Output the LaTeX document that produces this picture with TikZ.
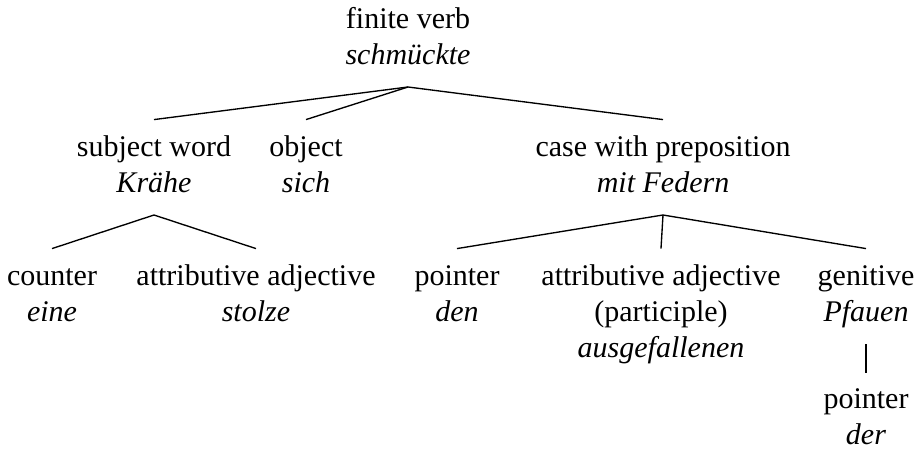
\documentclass[tikz,border=0pt]{standalone}
\usepackage{fontspec}
\setmainfont{Liberation Serif}
\begin{document}
\begin{tikzpicture}[x=0.3333pt,y=-0.3333pt,
  lbl/.style={anchor=north,align=center,inner xsep=0pt,inner ysep=3.7pt,font=\fontsize{10}{12}\selectfont},
  lblend/.style={lbl,inner ysep=0pt,outer ysep=3.7pt},
  edge/.style={draw=black,line width=0.45pt}]
\useasboundingbox (0,0) rectangle (920,450);
\node[lbl] (root) at (408,-8.4) {\strut finite verb\\\strut\textit{schmückte}};
\node[lbl] (subj) at (154,119.6) {\strut subject word\\\strut\textit{Krähe}};
\node[lbl] (obj) at (306,119.6) {\strut object\\\strut\textit{sich}};
\node[lbl] (case) at (663,119.6) {\strut case with preposition\\\strut\textit{mit Federn}};
\node[lbl] (count) at (52,248.6) {\strut counter\\\strut\textit{eine}};
\node[lbl] (attra) at (256,248.6) {\strut attributive adjective\\\strut\textit{stolze}};
\node[lbl] (pointa) at (457,248.6) {\strut pointer\\\strut\textit{den}};
\node[lbl] (attrb) at (661,248.6) {\strut attributive adjective\\\strut(participle)\\\strut\textit{ausgefallenen}};
\node[lbl] (gen) at (866,248.6) {\strut genitive\\\strut\textit{Pfauen}};
\node[lblend] (pointb) at (866,372.6) {\strut pointer\\\textit{der}};
\draw[edge] (root.south) -- (subj.north);
\draw[edge] (root.south) -- (obj.north);
\draw[edge] (root.south) -- (case.north);
\draw[edge] (subj.south) -- (count.north);
\draw[edge] (subj.south) -- (attra.north);
\draw[edge] (case.south) -- (pointa.north);
\draw[edge] (case.south) -- (attrb.north);
\draw[edge] (case.south) -- (gen.north);
\draw[edge] (gen.south) -- (pointb.north);
\end{tikzpicture}
\end{document}
